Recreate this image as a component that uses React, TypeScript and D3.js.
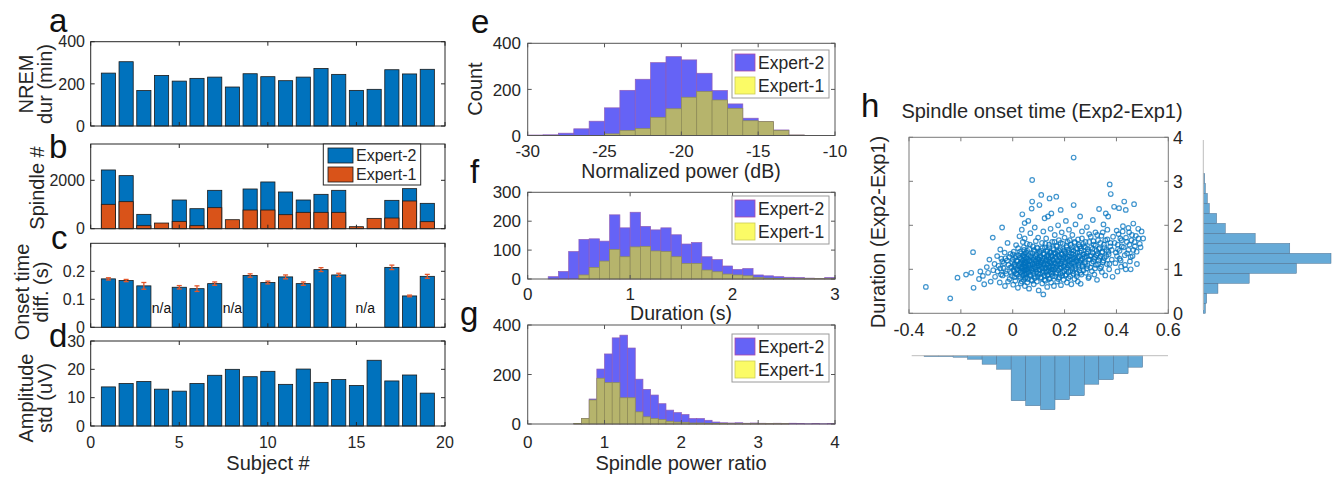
import React from 'react';
import * as d3 from 'd3';

// ---------- DATA ----------
const subjects = [1, 2, 3, 4, 5, 6, 7, 8, 9, 10, 11, 12, 13, 14, 15, 16, 17, 18, 19];
const nremDur = [251, 305, 168, 240, 213, 226, 232, 185, 248, 234, 215, 232, 273, 245, 169, 174, 267, 247, 269];
const spindleExp2 = [2427, 2193, 593, null, 1186, 827, 1586, null, 1641, 1931, 1517, 1186, 1420, 1586, null, null, 1172, 1655, 1048];
const spindleExp1 = [1007, 1117, 124, 234, 303, 124, 869, 372, 772, 772, 579, 676, 676, 676, 83, 427, 441, 1145, 290];
const onsetDiff = [0.173, 0.167, 0.148, null, 0.143, 0.138, 0.156, null, 0.185, 0.16, 0.18, 0.156, 0.206, 0.187, null, null, 0.214, 0.112, 0.182];
const onsetErr = [0.004, 0.004, 0.012, null, 0.006, 0.01, 0.006, null, 0.006, 0.005, 0.007, 0.006, 0.007, 0.006, null, null, 0.008, 0.003, 0.007];
const naSubjects = [4, 8, 15.5];
const amplitudeStd = [13.8, 15.0, 15.7, 13.0, 12.3, 15.0, 17.9, 20.0, 17.4, 19.3, 14.7, 20.1, 15.4, 16.4, 14.3, 23.2, 15.9, 18.0, 11.6];

// e: normalized power, bins of 1 dB from -30
const powerBinStart = -30;
const powerBinWidth = 1;
const powerExp2 = [2, 3, 10, 29, 62, 120, 196, 244, 316, 342, 328, 270, 195, 137, 75, 60, 24, 2];
const powerExp1 = [0, 0, 0, 0, 0, 7, 22, 30, 79, 116, 166, 191, 154, 118, 64, 60, 22, 2];

// f: duration, bins of 0.1 s from 0
const durBinStart = 0;
const durBinWidth = 0.1;
const durExp2 = [0, 0, 8, 26, 95, 137, 139, 131, 222, 177, 231, 182, 170, 177, 153, 121, 126, 77, 67, 45, 33, 36, 14, 11, 8, 6, 5, 3, 2, 5];
const durExp1 = [0, 0, 0, 0, 0, 14, 40, 62, 102, 77, 111, 113, 97, 95, 77, 54, 54, 31, 25, 17, 14, 11, 5, 3, 2, 2, 1, 1, 1, 1];

// g: spindle power ratio, bins of 0.1 from 0
const ratioBinStart = 0;
const ratioBinWidth = 0.1;
const ratioExp2 = [0, 0, 0, 0, 0, 0, 2, 22, 101, 222, 283, 348, 359, 307, 181, 140, 117, 82, 56, 46, 38, 22, 22, 15, 8, 5, 4, 5, 3, 4, 3, 2, 3, 2, 3, 2, 1, 2, 1, 2];
const ratioExp1 = [0, 0, 0, 0, 0, 0, 2, 22, 97, 185, 167, 167, 106, 106, 49, 29, 22, 18, 11, 8, 7, 4, 4, 3, 2, 2, 1, 1, 1, 1, 1, 1, 1, 1, 0, 0, 0, 0, 0, 0];

// h: scatter of onset-time difference (x) vs duration difference (y) — spread/outlying points
const scatterSpread: [number, number][] = [
  [-0.335, 0.6], [-0.241, 0.34], [-0.213, 0.81], [-0.18, 0.88],
  [-0.153, 1.39], [-0.151, 0.58], [-0.16, 0.92], [-0.13, 0.78], [-0.125, 0.95],
  [-0.115, 0.85], [-0.11, 0.66], [-0.1, 1.05], [-0.095, 0.92], [-0.09, 1.22], [-0.085, 0.72], [-0.077, 1.72], [-0.075, 0.98], [-0.07, 1.12], [-0.068, 0.83],
  [-0.06, 1.3], [-0.058, 0.95], [-0.055, 1.08], [-0.05, 0.7], [-0.048, 1.45], [-0.045, 0.88], [-0.041, 1.95], [-0.04, 1.18], [-0.035, 1.02], [-0.03, 0.62], [-0.028, 1.25], [-0.025, 0.9], [-0.02, 1.6], [-0.016, 1.1], [-0.012, 0.78], [-0.009, 1.35],
  [-0.005, 1.05], [-0.003, 0.85], [0.0, 1.22], [0.002, 0.65], [0.004, 1.4], [0.006, 0.95], [0.008, 1.12], [0.01, 0.74], [0.012, 1.3], [0.013, 1.55], [0.015, 1.0], [0.017, 0.88], [0.018, 1.18], [0.02, 0.58], [0.021, 1.48], [0.023, 1.08], [0.025, 0.97], [0.026, 1.75], [0.027, 1.26], [0.029, 0.8], [0.03, 1.14], [0.031, 0.68], [0.032, 1.36], [0.034, 1.02], [0.035, 1.9], [0.036, 0.92], [0.037, 2.25], [0.038, 1.2], [0.039, 1.62], [0.04, 0.86], [0.041, 1.06], [0.042, 1.32], [0.043, 0.76], [0.044, 1.44], [0.045, 0.99], [0.045, 1.16], [0.046, 2.05], [0.047, 0.62], [0.047, 1.28], [0.048, 1.1], [0.048, 0.9], [0.046, 1.7],
  [0.05, 1.15], [0.051, 0.82], [0.052, 1.38], [0.054, 1.0], [0.055, 1.58], [0.056, 0.7], [0.058, 1.24], [0.059, 0.94], [0.06, 2.1], [0.062, 1.08], [0.063, 0.56], [0.064, 1.46], [0.066, 1.18], [0.067, 0.88], [0.068, 1.82], [0.07, 1.3], [0.071, 1.02], [0.072, 0.76], [0.073, 2.38], [0.075, 3.03], [0.075, 2.54], [0.076, 1.12], [0.078, 1.52], [0.079, 0.96], [0.08, 1.26], [0.081, 0.66], [0.083, 1.4], [0.084, 1.06], [0.085, 1.95], [0.087, 0.84], [0.088, 1.2], [0.089, 1.64], [0.09, 1.0], [0.092, 1.34], [0.093, 0.72], [0.094, 1.14], [0.096, 1.48], [0.097, 0.9], [0.098, 1.72], [0.099, 1.22], [0.1, 0.52], [0.101, 1.08], [0.103, 2.46], [0.103, 1.36], [0.104, 0.98], [0.105, 1.28],
  [0.107, 1.16], [0.108, 0.8], [0.11, 2.69], [0.11, 1.42], [0.112, 1.04], [0.113, 1.6], [0.114, 0.68], [0.115, 1.24], [0.116, 0.92], [0.118, 0.43], [0.118, 1.86], [0.12, 1.12], [0.121, 1.34], [0.122, 0.86], [0.123, 2.16], [0.124, 1.5], [0.125, 1.02], [0.126, 0.74], [0.128, 1.2], [0.129, 1.7], [0.13, 0.96], [0.131, 1.3], [0.132, 1.1], [0.133, 0.6], [0.134, 1.44], [0.136, 2.2], [0.136, 0.88], [0.137, 1.26], [0.138, 1.04], [0.14, 1.56], [0.141, 0.78], [0.142, 2.61], [0.142, 1.18], [0.143, 1.38], [0.145, 0.94], [0.146, 1.92], [0.147, 1.14], [0.148, 0.7], [0.149, 2.27], [0.15, 1.32], [0.151, 1.0], [0.152, 1.62], [0.154, 0.84], [0.155, 1.22], [0.156, 1.48], [0.158, 1.06], [0.159, 0.62], [0.16, 1.36], [0.162, 1.78], [0.163, 1.12],
  [0.165, 1.28], [0.166, 0.9], [0.168, 2.65], [0.168, 1.54], [0.17, 1.08], [0.171, 0.72], [0.172, 1.4], [0.174, 1.2], [0.175, 2.0], [0.176, 0.98], [0.178, 1.66], [0.179, 1.3], [0.18, 0.82], [0.182, 1.12], [0.183, 1.46], [0.185, 2.35], [0.185, 1.04], [0.186, 0.64], [0.188, 1.34], [0.189, 1.84], [0.19, 1.18], [0.192, 0.92], [0.193, 1.58], [0.195, 1.26], [0.196, 0.76], [0.197, 1.42], [0.199, 1.06], [0.2, 1.72], [0.201, 1.16], [0.203, 0.86], [0.204, 1.36], [0.205, 2.1], [0.206, 1.0], [0.208, 1.5], [0.209, 0.7], [0.21, 1.24], [0.212, 1.62], [0.213, 1.1], [0.214, 0.94], [0.216, 1.38], [0.217, 1.9], [0.218, 1.2],
  [0.22, 1.3], [0.221, 0.84], [0.223, 1.56], [0.224, 1.08], [0.226, 0.66], [0.227, 1.44], [0.229, 1.22], [0.23, 1.78], [0.232, 0.96], [0.233, 1.34], [0.235, 3.54], [0.235, 2.46], [0.236, 1.14], [0.238, 0.78], [0.239, 1.62], [0.24, 1.26], [0.242, 2.02], [0.243, 1.02], [0.245, 1.48], [0.246, 0.9], [0.248, 1.18], [0.249, 1.38], [0.251, 0.72], [0.252, 1.68], [0.254, 1.1], [0.255, 1.3], [0.257, 0.98], [0.258, 1.52], [0.26, 2.2], [0.261, 1.2], [0.262, 0.67], [0.264, 1.42], [0.265, 0.88], [0.267, 1.86], [0.269, 1.24], [0.27, 1.06], [0.272, 1.58], [0.275, 1.34],
  [0.278, 1.16], [0.28, 1.5], [0.282, 0.92], [0.284, 1.3], [0.286, 1.96], [0.288, 1.08], [0.29, 1.4], [0.292, 0.8], [0.294, 0.83], [0.295, 1.62], [0.297, 1.22], [0.299, 1.04], [0.301, 1.74], [0.303, 1.32], [0.305, 0.96], [0.307, 1.46], [0.309, 2.12], [0.311, 1.18], [0.313, 1.56], [0.315, 0.88], [0.317, 1.28], [0.319, 1.84], [0.321, 1.1], [0.323, 1.42], [0.325, 0.76], [0.327, 1.36], [0.329, 1.66], [0.331, 1.2],
  [0.333, 2.37], [0.335, 1.48], [0.337, 1.02], [0.339, 1.3], [0.342, 1.76], [0.344, 0.94], [0.346, 1.4], [0.348, 1.16], [0.35, 2.02], [0.352, 1.56], [0.354, 1.26], [0.357, 0.86], [0.359, 2.27], [0.361, 1.44], [0.363, 1.12], [0.365, 1.68], [0.368, 2.2], [0.37, 1.34], [0.372, 1.0], [0.374, 2.93], [0.376, 1.52], [0.378, 2.71], [0.382, 1.22], [0.385, 0.83],
  [0.391, 2.42], [0.393, 1.6], [0.396, 1.14], [0.398, 1.38], [0.401, 1.88], [0.404, 0.95], [0.406, 1.46], [0.41, 2.39], [0.412, 1.24], [0.415, 1.7], [0.418, 1.06], [0.421, 1.52], [0.425, 1.98], [0.43, 2.54], [0.432, 1.32], [0.436, 2.35], [0.436, 1.0], [0.44, 1.62],
  [0.446, 1.44], [0.449, 1.84], [0.452, 1.18], [0.455, 1.0], [0.458, 1.66], [0.462, 1.3], [0.465, 2.04], [0.468, 2.48], [0.471, 1.52], [0.475, 1.76], [0.479, 1.12], [0.484, 1.92], [0.49, 1.58], [0.497, 1.86], [0.503, 1.7],
];

// h: dense core of the scatter cloud
const scatterCore: [number, number][] = [
  [-0.048, 1.02], [-0.044, 1.24], [-0.039, 0.86], [-0.034, 1.14], [-0.031, 1.38], [-0.027, 0.96], [-0.022, 1.2], [-0.018, 0.72], [-0.014, 1.28], [-0.01, 1.04], [-0.006, 0.92], [-0.002, 1.16],
  [0.001, 1.34], [0.003, 0.98], [0.005, 1.1], [0.007, 0.82], [0.009, 1.26], [0.011, 1.06], [0.014, 0.9], [0.016, 1.2], [0.019, 1.0], [0.022, 1.32], [0.024, 0.84], [0.026, 1.12], [0.028, 1.4], [0.03, 0.94], [0.032, 1.06], [0.033, 1.24], [0.035, 0.72], [0.036, 1.16], [0.038, 1.02], [0.039, 1.3], [0.04, 0.96], [0.042, 1.12], [0.043, 1.5], [0.044, 0.88], [0.045, 1.22], [0.046, 1.04], [0.047, 1.36], [0.048, 0.8], [0.049, 1.14], [0.049, 0.98],
  [0.051, 1.06], [0.052, 1.26], [0.053, 0.9], [0.054, 1.18], [0.056, 1.42], [0.057, 1.0], [0.058, 0.78], [0.06, 1.12], [0.061, 1.32], [0.062, 0.92], [0.064, 1.2], [0.065, 1.04], [0.066, 1.56], [0.068, 0.86], [0.069, 1.1], [0.07, 1.28], [0.072, 0.98], [0.073, 1.16], [0.075, 0.74], [0.076, 1.36], [0.078, 1.02], [0.079, 1.22], [0.081, 0.9], [0.082, 1.44], [0.084, 1.12], [0.085, 0.8], [0.087, 1.3], [0.088, 1.04], [0.09, 1.18], [0.091, 0.94], [0.093, 1.5], [0.094, 1.08], [0.096, 1.26], [0.097, 0.84], [0.099, 1.14],
  [0.101, 1.0], [0.102, 1.22], [0.104, 1.4], [0.105, 0.9], [0.107, 1.1], [0.108, 1.3], [0.11, 0.82], [0.111, 1.16], [0.113, 1.02], [0.114, 1.48], [0.116, 1.2], [0.117, 0.96], [0.119, 1.36], [0.12, 1.08], [0.122, 0.76], [0.123, 1.26], [0.125, 1.14], [0.126, 1.58], [0.128, 0.92], [0.129, 1.04], [0.131, 1.22], [0.132, 1.4], [0.134, 0.86], [0.135, 1.12], [0.137, 1.32], [0.138, 0.98], [0.14, 1.18], [0.141, 1.5], [0.143, 1.06], [0.144, 0.8], [0.146, 1.26], [0.147, 1.38], [0.149, 1.0], [0.15, 1.16], [0.15, 0.9],
  [0.152, 1.3], [0.153, 1.08], [0.155, 0.94], [0.156, 1.2], [0.158, 1.44], [0.159, 1.0], [0.161, 1.62], [0.162, 1.14], [0.164, 0.84], [0.165, 1.36], [0.167, 1.04], [0.168, 1.24], [0.17, 0.92], [0.171, 1.52], [0.173, 1.12], [0.174, 1.32], [0.176, 0.78], [0.177, 1.18], [0.179, 1.42], [0.18, 1.02], [0.182, 1.26], [0.183, 0.9], [0.185, 1.6], [0.186, 1.14], [0.188, 1.04], [0.19, 1.34], [0.191, 0.86], [0.193, 1.22], [0.194, 1.46], [0.196, 1.08], [0.198, 1.3], [0.199, 0.96],
  [0.201, 1.4], [0.203, 1.12], [0.205, 1.26], [0.206, 0.88], [0.208, 1.54], [0.21, 1.04], [0.211, 1.3], [0.213, 1.18], [0.215, 0.8], [0.216, 1.44], [0.218, 1.08], [0.22, 1.66], [0.221, 1.22], [0.223, 0.96], [0.225, 1.36], [0.227, 1.14], [0.228, 1.5], [0.23, 1.02], [0.232, 1.28], [0.234, 0.9], [0.235, 1.42], [0.237, 1.16], [0.239, 1.6], [0.241, 1.08], [0.243, 1.32], [0.245, 1.2], [0.247, 0.84], [0.249, 1.46],
  [0.251, 1.26], [0.253, 1.04], [0.255, 1.56], [0.257, 1.16], [0.259, 1.38], [0.261, 0.92], [0.263, 1.48], [0.265, 1.22], [0.267, 1.7], [0.269, 1.1], [0.271, 1.34], [0.273, 0.98], [0.275, 1.52], [0.277, 1.28], [0.279, 1.12], [0.281, 1.62], [0.284, 1.36], [0.286, 1.02], [0.289, 1.46], [0.292, 1.22], [0.295, 1.8], [0.298, 1.3],
  [0.302, 1.5], [0.305, 1.14], [0.308, 1.38], [0.311, 1.64], [0.314, 1.24], [0.317, 1.02], [0.32, 1.54], [0.323, 1.32], [0.326, 1.78], [0.329, 1.12], [0.332, 1.46], [0.335, 1.26], [0.338, 1.6], [0.341, 1.06], [0.344, 1.38], [0.347, 1.84], [0.35, 1.2], [0.354, 1.5], [0.357, 1.66], [0.361, 1.3], [0.365, 1.9], [0.369, 1.4], [0.373, 1.12], [0.377, 1.6], [0.382, 1.44], [0.387, 1.74],
  [0.402, 1.3], [0.405, 1.56], [0.408, 1.8], [0.412, 1.42], [0.416, 1.2], [0.42, 1.66], [0.424, 1.86], [0.428, 1.5], [0.433, 1.1], [0.437, 1.72], [0.441, 1.36], [0.446, 1.94], [0.45, 1.56], [0.455, 1.28], [0.46, 1.78], [0.465, 1.44], [0.47, 1.62], [0.478, 1.4], [0.485, 1.7], [0.493, 1.5],
];

// marginal histograms of panel h
const durDiffEdges = [0, 0.227, 0.454, 0.681, 0.908, 1.135, 1.362, 1.589, 1.816, 2.043, 2.27, 2.497, 2.724, 2.951, 3.178];
const durDiffCounts = [3, 5, 22, 69, 140, 192, 130, 78, 33, 20, 9, 6, 3, 2];
const onsetDiffEdges = [-0.342, -0.286, -0.23, -0.174, -0.118, -0.062, -0.006, 0.05, 0.107, 0.163, 0.219, 0.276, 0.332, 0.388, 0.445, 0.501];
const onsetDiffCounts = [2, 2, 3, 7, 17, 27, 90, 100, 108, 88, 80, 57, 48, 36, 23];

const subjTicks = [0, 5, 10, 15, 20];

// ---------- STYLE ----------
const FONT = "'Liberation Sans', Arial, Helvetica, sans-serif";
const MBLUE = '#0072BD';
const MORANGE = '#D95319';
const HBLUE = '#6563f6';
const HBLUE_EDGE = '#8f5cb8';
const HOLIVE = '#b6b46c';
const HOLIVE_EDGE = '#8e8c55';
const HYELLOW = '#fbfb66';
const TXT = '#262626';

type Scale = d3.ScaleLinear<number, number>;

function Frame({ xs, ys, xTicks, yTicks, stroke, tl = 4 }: { xs: Scale; ys: Scale; xTicks: number[]; yTicks: number[]; stroke: string; tl?: number }) {
  const [x0, x1] = xs.range();
  const [y0, y1] = ys.range();
  return (
    <g stroke={stroke} strokeWidth={1} fill="none">
      <rect x={x0} y={y1} width={x1 - x0} height={y0 - y1} />
      {xTicks.map((t, i) => (
        <g key={'x' + i}>
          <line x1={xs(t)} x2={xs(t)} y1={y0} y2={y0 - tl} />
          <line x1={xs(t)} x2={xs(t)} y1={y1} y2={y1 + tl} />
        </g>
      ))}
      {yTicks.map((t, i) => (
        <g key={'y' + i}>
          <line x1={x0} x2={x0 + tl} y1={ys(t)} y2={ys(t)} />
          <line x1={x1} x2={x1 - tl} y1={ys(t)} y2={ys(t)} />
        </g>
      ))}
    </g>
  );
}

function YTickLabels({ ys, ticks, x, fmt, size }: { ys: Scale; ticks: number[]; x: number; fmt?: (v: number) => string; size: number }) {
  return (
    <g fontSize={size} fill={TXT} textAnchor="end">
      {ticks.map((t, i) => (
        <text key={i} x={x} y={ys(t)} dy="0.36em">{fmt ? fmt(t) : String(t)}</text>
      ))}
    </g>
  );
}

function XTickLabels({ xs, ticks, y, fmt, size }: { xs: Scale; ticks: number[]; y: number; fmt?: (v: number) => string; size: number }) {
  return (
    <g fontSize={size} fill={TXT} textAnchor="middle">
      {ticks.map((t, i) => (
        <text key={i} x={xs(t)} y={y}>{fmt ? fmt(t) : String(t)}</text>
      ))}
    </g>
  );
}

function Hist({ xs, ys, start, width, counts, fill, stroke }: { xs: Scale; ys: Scale; start: number; width: number; counts: number[]; fill: string; stroke: string }) {
  return (
    <g fill={fill} stroke={stroke} strokeWidth={0.7}>
      {counts.map((c, i) =>
        c > 0 ? (
          <rect key={i} x={xs(start + i * width)} width={xs(start + (i + 1) * width) - xs(start + i * width)} y={ys(c)} height={ys(0) - ys(c)} />
        ) : null
      )}
    </g>
  );
}

function HistLegend({ x, y }: { x: number; y: number }) {
  return (
    <g>
      <rect x={x} y={y} width={97} height={48} fill="#fff" stroke="#9a9a9a" strokeWidth={1} />
      <rect x={x + 3} y={y + 4} width={20} height={17} fill={HBLUE} stroke="#b04aa8" strokeWidth={0.8} />
      <rect x={x + 3} y={y + 27} width={20} height={17} fill={HYELLOW} stroke="#cccc55" strokeWidth={0.8} />
      <text x={x + 26} y={y + 19} fontSize={17.5} fill={TXT}>Expert-2</text>
      <text x={x + 26} y={y + 42} fontSize={17.5} fill={TXT}>Expert-1</text>
    </g>
  );
}

function PanelLetter({ x, y, t }: { x: number; y: number; t: string }) {
  return <text x={x} y={y} fontSize={33} fill="#111">{t}</text>;
}

function RotLabel({ x, y, lines, size = 20 }: { x: number; y: number; lines: string[]; size?: number }) {
  return (
    <g fontSize={size} fill={TXT} textAnchor="middle">
      {lines.map((l, i) => (
        <text key={i} transform={`translate(${x + i * 19},${y}) rotate(-90)`}>{l}</text>
      ))}
    </g>
  );
}

export default function App() {
  // ----- left column (a-d) -----
  const xs = d3.scaleLinear().domain([0, 20]).range([90.7, 445]);
  const bw = xs(0.8) - xs(0);
  const ysA = d3.scaleLinear().domain([0, 400]).range([126, 41.7]);
  const ysB = d3.scaleLinear().domain([0, 3500]).range([228.7, 144]);
  const ysC = d3.scaleLinear().domain([0, 0.3]).range([327.3, 243.3]);
  const ysD = d3.scaleLinear().domain([0, 30]).range([426, 341]);

  // ----- middle column (e-g) -----
  const xsE = d3.scaleLinear().domain([-30, -10]).range([527.7, 835]);
  const ysE = d3.scaleLinear().domain([0, 400]).range([135.5, 43.3]);
  const xsF = d3.scaleLinear().domain([0, 3]).range([527.7, 835]);
  const ysF = d3.scaleLinear().domain([0, 300]).range([279, 192.3]);
  const xsG = d3.scaleLinear().domain([0, 4]).range([527.7, 835]);
  const ysG = d3.scaleLinear().domain([0, 400]).range([424, 325]);

  // ----- right (h) -----
  const xsH = d3.scaleLinear().domain([-0.4, 0.6]).range([909, 1168.3]);
  const ysH = d3.scaleLinear().domain([0, 4]).range([313.3, 137.3]);
  const rightLen = d3.scaleLinear().domain([0, 192]).range([1203.3, 1331]);
  const bottomLen = d3.scaleLinear().domain([0, 108]).range([355.7, 409.7]);
  const scatterAll = scatterSpread.concat(scatterCore);

  const barRect = (s: number, v: number, ys: Scale, fill: string, key: string) => (
    <rect key={key} x={xs(s) - bw / 2} width={bw} y={ys(v)} height={ys(0) - ys(v)} fill={fill} stroke="#1a1a1a" strokeWidth={0.8} />
  );

  const fmt1 = (v: number) => (v === 0 ? '0' : v.toFixed(1));
  const fmtH = (v: number) => (v === 0 ? '0' : (Math.round(v * 10) / 10).toString());

  return (
    <svg width={1340} height={477} style={{ position: 'absolute', left: 0, top: 0, background: '#fff' }} fontFamily={FONT}>
      <rect x={0} y={0} width={1340} height={477} fill="#fff" />

      {/* ===== a ===== */}
      <g>
        {subjects.map((s, i) => barRect(s, nremDur[i], ysA, MBLUE, 'a' + i))}
        <Frame xs={xs} ys={ysA} xTicks={subjTicks} yTicks={[0, 200, 400]} stroke={TXT} />
        <YTickLabels ys={ysA} ticks={[0, 200, 400]} x={85} size={16} />
        <RotLabel x={33} y={84} lines={['NREM', 'dur (min)']} />
        <PanelLetter x={49} y={32} t="a" />
      </g>

      {/* ===== b ===== */}
      <g>
        {subjects.map((s, i) => (spindleExp2[i] != null ? barRect(s, spindleExp2[i] as number, ysB, MBLUE, 'b2' + i) : null))}
        {subjects.map((s, i) => barRect(s, spindleExp1[i], ysB, MORANGE, 'b1' + i))}
        <Frame xs={xs} ys={ysB} xTicks={subjTicks} yTicks={[0, 2000]} stroke={TXT} />
        <YTickLabels ys={ysB} ticks={[0, 2000]} x={85} size={16} />
        <RotLabel x={44} y={188} lines={['Spindle #']} />
        <PanelLetter x={49} y={158} t="b" />
        <g>
          <rect x={323.3} y={144} width={97.4} height={41} fill="#fff" stroke={TXT} strokeWidth={1} />
          <rect x={328} y={148} width={25} height={15} fill={MBLUE} stroke="#1a1a1a" strokeWidth={0.8} />
          <rect x={328} y={167} width={25} height={15} fill={MORANGE} stroke="#1a1a1a" strokeWidth={0.8} />
          <text x={356} y={161} fontSize={16} fill={TXT}>Expert-2</text>
          <text x={356} y={180} fontSize={16} fill={TXT}>Expert-1</text>
        </g>
      </g>

      {/* ===== c ===== */}
      <g>
        {subjects.map((s, i) => (onsetDiff[i] != null ? barRect(s, onsetDiff[i] as number, ysC, MBLUE, 'c' + i) : null))}
        <g stroke="#e4572a" strokeWidth={1.3}>
          {subjects.map((s, i) => {
            const v = onsetDiff[i];
            const e = onsetErr[i];
            if (v == null || e == null) return null;
            return (
              <g key={'e' + i}>
                <line x1={xs(s)} x2={xs(s)} y1={ysC(v - e)} y2={ysC(v + e)} />
                <line x1={xs(s) - 2.5} x2={xs(s) + 2.5} y1={ysC(v - e)} y2={ysC(v - e)} />
                <line x1={xs(s) - 2.5} x2={xs(s) + 2.5} y1={ysC(v + e)} y2={ysC(v + e)} />
              </g>
            );
          })}
        </g>
        {naSubjects.map((s, i) => (
          <text key={'na' + i} x={xs(s)} y={313} fontSize={14} textAnchor="middle" fill="#111">n/a</text>
        ))}
        <Frame xs={xs} ys={ysC} xTicks={subjTicks} yTicks={[0, 0.1, 0.2]} stroke={TXT} />
        <YTickLabels ys={ysC} ticks={[0, 0.1, 0.2]} x={85} size={16} fmt={fmt1} />
        <RotLabel x={29} y={292} lines={['Onset time', 'diff. (s)']} />
        <PanelLetter x={51} y={249} t="c" />
      </g>

      {/* ===== d ===== */}
      <g>
        {subjects.map((s, i) => barRect(s, amplitudeStd[i], ysD, MBLUE, 'd' + i))}
        <Frame xs={xs} ys={ysD} xTicks={subjTicks} yTicks={[0, 10, 20, 30]} stroke={TXT} />
        <YTickLabels ys={ysD} ticks={[0, 10, 20, 30]} x={85} size={16} />
        <XTickLabels xs={xs} ticks={subjTicks} y={448} size={16} />
        <text x={268} y={470} fontSize={20} textAnchor="middle" fill={TXT}>Subject #</text>
        <RotLabel x={33} y={398} lines={['Amplitude', 'std (uV)']} />
        <PanelLetter x={49} y={347} t="d" />
      </g>

      {/* ===== e ===== */}
      <g>
        <Hist xs={xsE} ys={ysE} start={powerBinStart} width={powerBinWidth} counts={powerExp2} fill={HBLUE} stroke={HBLUE_EDGE} />
        <Hist xs={xsE} ys={ysE} start={powerBinStart} width={powerBinWidth} counts={powerExp1} fill={HOLIVE} stroke={HOLIVE_EDGE} />
        <Frame xs={xsE} ys={ysE} xTicks={[-30, -25, -20, -15, -10]} yTicks={[0, 200, 400]} stroke="#555" />
        <YTickLabels ys={ysE} ticks={[0, 200, 400]} x={521} size={17} />
        <XTickLabels xs={xsE} ticks={[-30, -25, -20, -15, -10]} y={157} size={17} />
        <text x={681} y={178} fontSize={19.5} textAnchor="middle" fill={TXT}>Normalized power (dB)</text>
        <RotLabel x={482} y={89} lines={['Count']} />
        <HistLegend x={732} y={50} />
        <PanelLetter x={471} y={33} t="e" />
      </g>

      {/* ===== f ===== */}
      <g>
        <Hist xs={xsF} ys={ysF} start={durBinStart} width={durBinWidth} counts={durExp2} fill={HBLUE} stroke={HBLUE_EDGE} />
        <Hist xs={xsF} ys={ysF} start={durBinStart} width={durBinWidth} counts={durExp1} fill={HOLIVE} stroke={HOLIVE_EDGE} />
        <Frame xs={xsF} ys={ysF} xTicks={[0, 1, 2, 3]} yTicks={[0, 100, 200, 300]} stroke="#555" />
        <YTickLabels ys={ysF} ticks={[0, 100, 200, 300]} x={521} size={17} />
        <XTickLabels xs={xsF} ticks={[0, 1, 2, 3]} y={300} size={17} />
        <text x={681} y={320} fontSize={19.5} textAnchor="middle" fill={TXT}>Duration (s)</text>
        <HistLegend x={732} y={196} />
        <PanelLetter x={470} y={183} t="f" />
      </g>

      {/* ===== g ===== */}
      <g>
        <Hist xs={xsG} ys={ysG} start={ratioBinStart} width={ratioBinWidth} counts={ratioExp2} fill={HBLUE} stroke={HBLUE_EDGE} />
        <Hist xs={xsG} ys={ysG} start={ratioBinStart} width={ratioBinWidth} counts={ratioExp1} fill={HOLIVE} stroke={HOLIVE_EDGE} />
        <Frame xs={xsG} ys={ysG} xTicks={[0, 1, 2, 3, 4]} yTicks={[0, 200, 400]} stroke="#555" />
        <YTickLabels ys={ysG} ticks={[0, 200, 400]} x={521} size={17} />
        <XTickLabels xs={xsG} ticks={[0, 1, 2, 3, 4]} y={448} size={17} />
        <text x={681} y={470} fontSize={20} textAnchor="middle" fill={TXT}>Spindle power ratio</text>
        <HistLegend x={732} y={334} />
        <PanelLetter x={460} y={325} t="g" />
      </g>

      {/* ===== h ===== */}
      <g>
        <Frame xs={xsH} ys={ysH} xTicks={[-0.4, -0.2, 0, 0.2, 0.4, 0.6]} yTicks={[0, 1, 2, 3, 4]} stroke="#7a7a7a" />
        <g fill="none" stroke={MBLUE} strokeWidth={1.2} strokeOpacity={0.75}>
          {scatterAll.map((p, i) => (
            <circle key={i} cx={xsH(p[0])} cy={ysH(p[1])} r={2.3} />
          ))}
        </g>
        <g fontSize={18} fill={TXT}>
          {[0, 1, 2, 3, 4].map((t) => (
            <text key={t} x={1173} y={ysH(t)} dy="0.36em">{t}</text>
          ))}
        </g>
        <XTickLabels xs={xsH} ticks={[-0.4, -0.2, 0, 0.2, 0.4, 0.6]} y={336} size={18} fmt={fmtH} />
        <text x={1042} y={118} fontSize={20} textAnchor="middle" fill={TXT}>Spindle onset time (Exp2-Exp1)</text>
        <RotLabel x={885} y={232} lines={['Duration (Exp2-Exp1)']} />
        <PanelLetter x={861} y={117} t="h" />

        {/* right marginal histogram (duration difference) */}
        <g fill="#66aad7" stroke="#4d7090" strokeWidth={0.5}>
          {durDiffCounts.map((c, i) => (
            <rect key={i} x={rightLen(0)} width={rightLen(c) - rightLen(0)} y={ysH(durDiffEdges[i + 1])} height={ysH(durDiffEdges[i]) - ysH(durDiffEdges[i + 1])} />
          ))}
        </g>
        <line x1={rightLen(0)} x2={rightLen(0)} y1={140} y2={310} stroke="#bdbdbd" strokeWidth={1} />

        {/* bottom marginal histogram (onset difference) */}
        <g fill="#66aad7" stroke="#4d7090" strokeWidth={0.5}>
          {onsetDiffCounts.map((c, i) => (
            <rect key={i} x={xsH(onsetDiffEdges[i])} width={xsH(onsetDiffEdges[i + 1]) - xsH(onsetDiffEdges[i])} y={bottomLen(0)} height={bottomLen(c) - bottomLen(0)} />
          ))}
        </g>
        <line x1={911.7} x2={1168} y1={bottomLen(0)} y2={bottomLen(0)} stroke="#bdbdbd" strokeWidth={1} />
      </g>
    </svg>
  );
}
